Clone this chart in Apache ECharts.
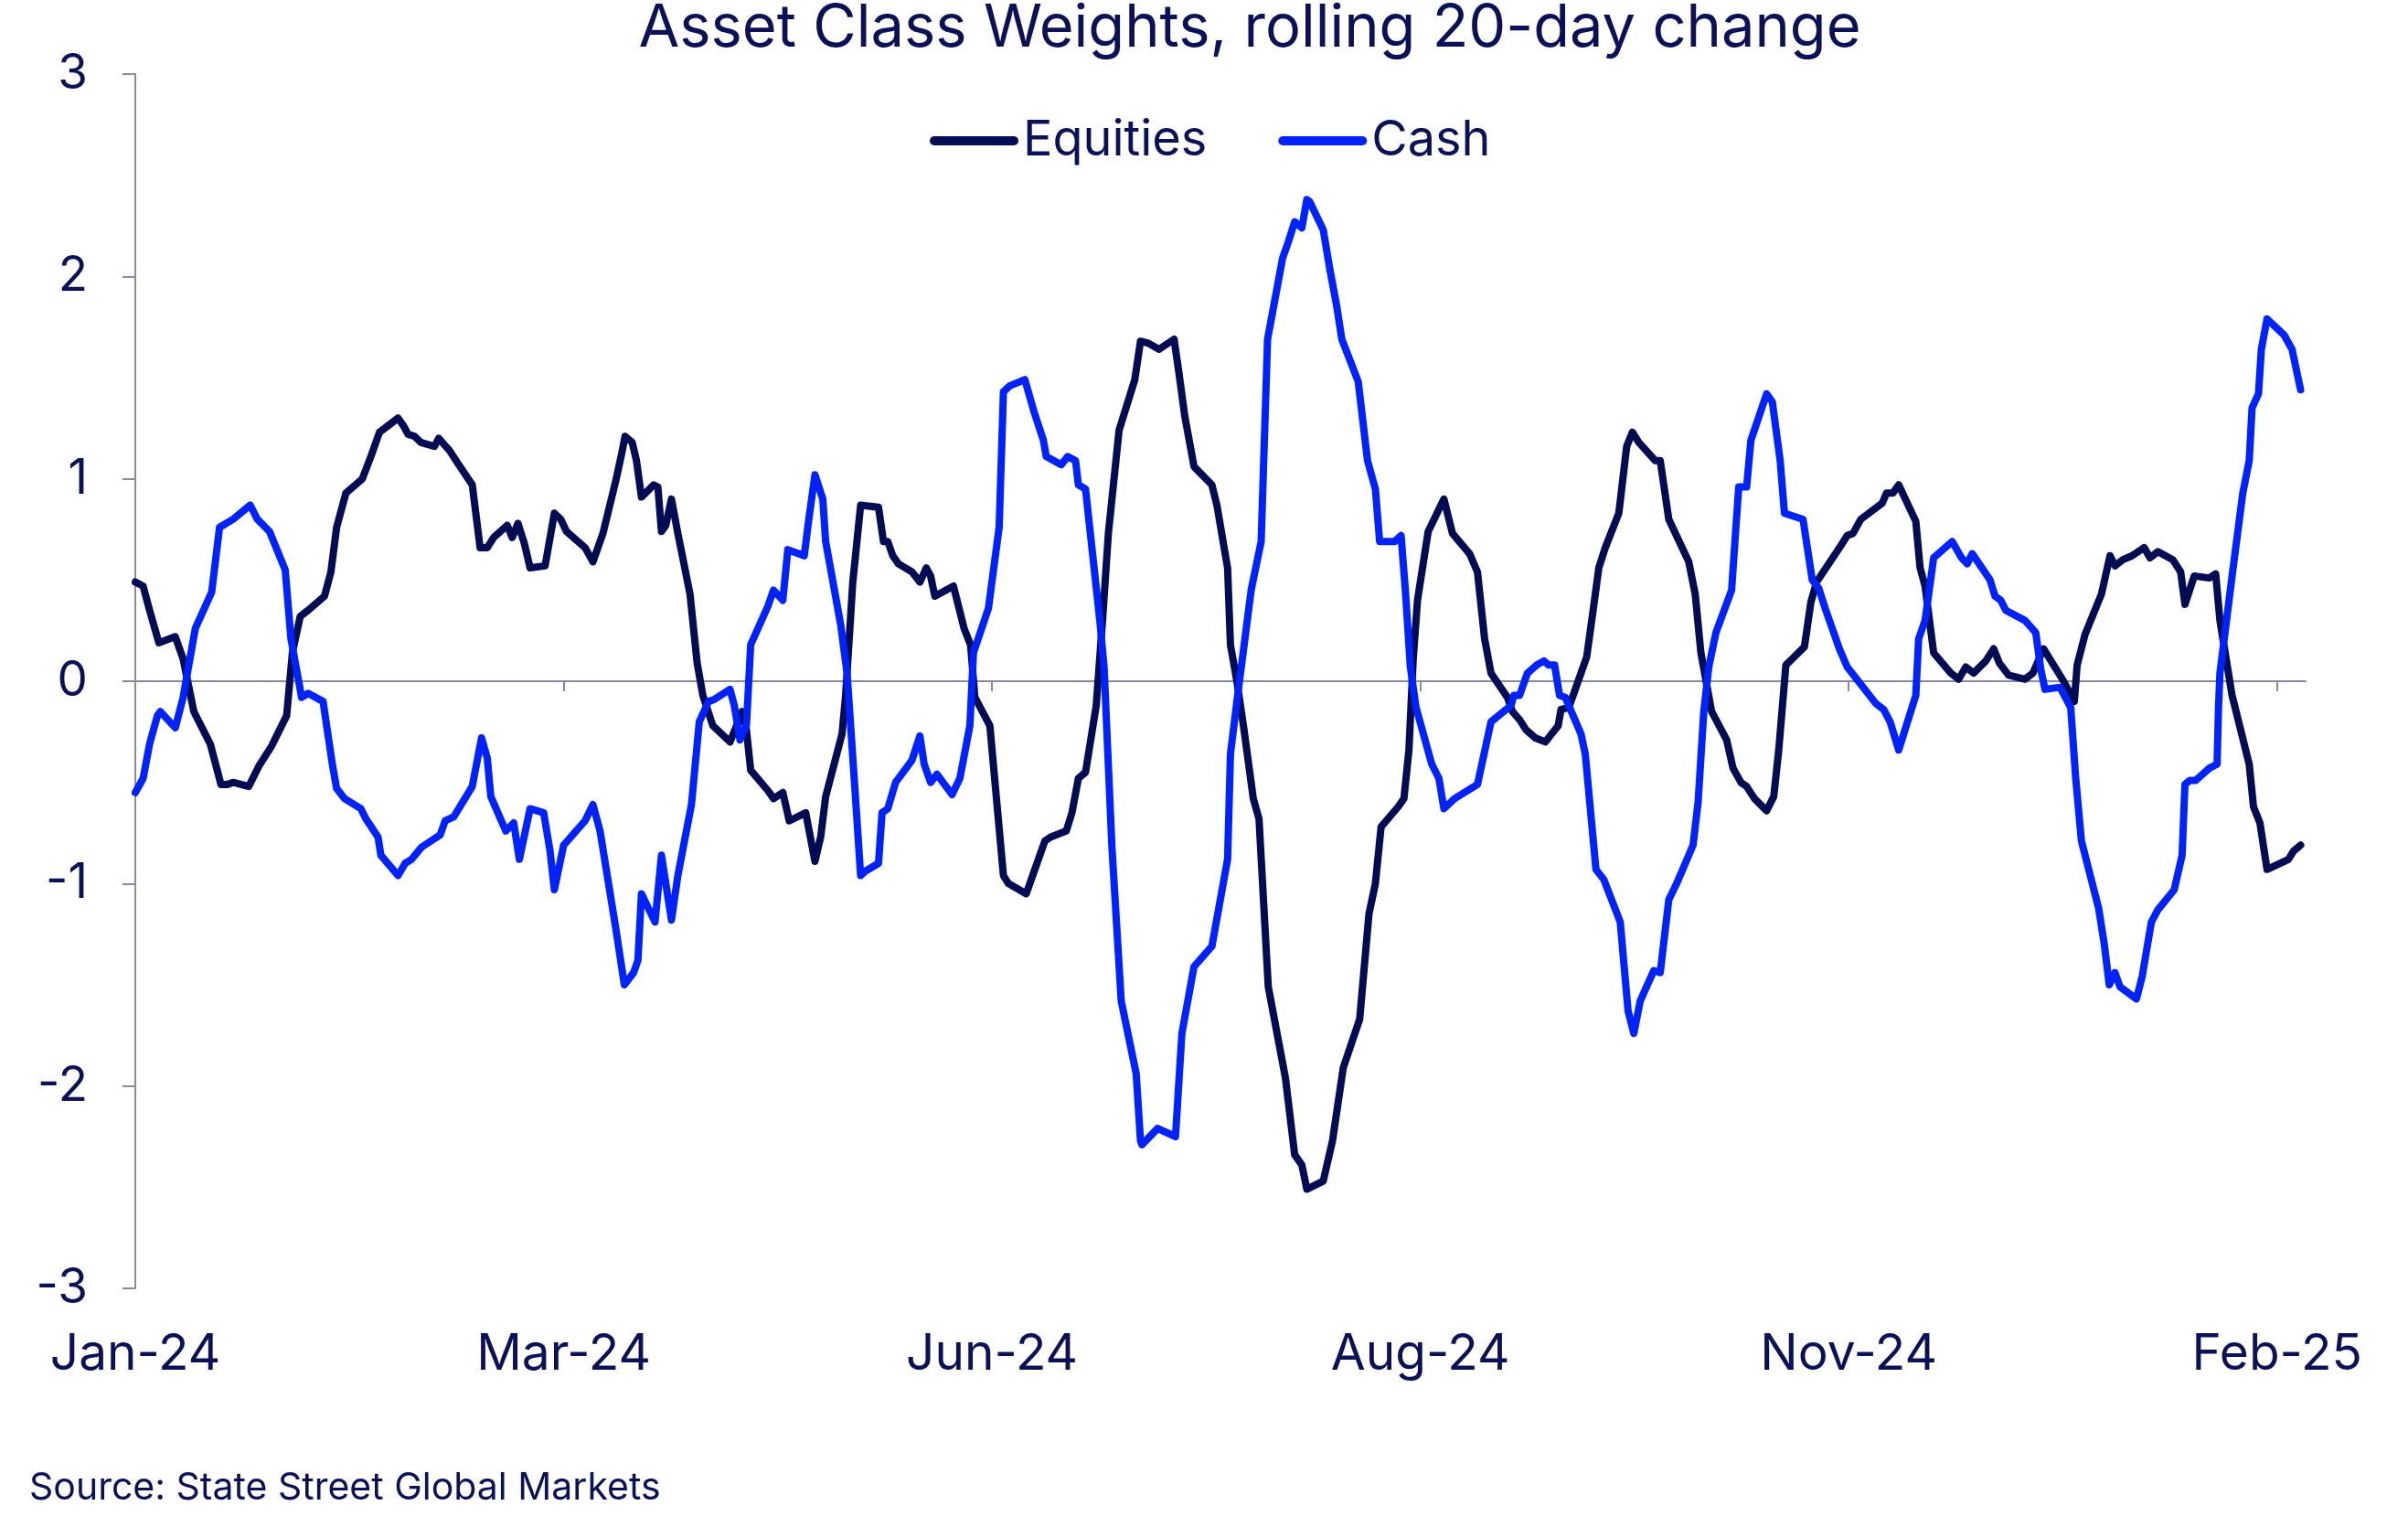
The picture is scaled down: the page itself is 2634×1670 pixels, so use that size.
<!DOCTYPE html>
<html>
<head>
<meta charset="utf-8">
<script src="https://cdn.jsdelivr.net/npm/echarts@6/dist/echarts.min.js"></script>
<style>
html,body{margin:0;padding:0;background:#fff;}
#chart{width:2634px;height:1670px;}
</style>
</head>
<body>
<div id="chart"></div>
<script>
// x positions are trading-day indices (label every 60 days)
var tickDays = [0, 60, 120, 180, 240, 300];
var tickLabels = ["Jan-24", "Mar-24", "Jun-24", "Aug-24", "Nov-24", "Feb-25"];

var equitiesX = [0,1.1,2.0,3.3,5.6,6.7,8.2,10.5,12.0,12.9,13.7,15.9,17.3,19.1,21.2,22.0,23.1,24.2,26.5,27.4,28.2,29.5,31.8,33.1,34.2,36.8,37.6,38.2,39.1,40.0,41.9,42.5,44.0,45.3,47.2,48.3,49.3,50.2,52.1,52.8,53.6,54.5,55.3,57.4,58.7,59.6,60.4,63.0,64.1,65.5,67.3,68.1,68.6,69.6,70.2,70.9,72.6,73.2,73.7,74.3,75.1,76.0,77.7,78.7,79.5,80.9,83.3,84.1,85.0,85.6,86.2,88.6,89.4,90.7,91.6,93.9,94.5,95.2,96.0,96.7,99.0,99.5,100.5,101.6,104.1,104.8,105.4,106.1,106.9,108.8,109.9,110.8,111.4,112.0,114.6,116.1,117.0,117.6,119.7,121.6,122.3,124.8,127.4,128.2,130.4,131.2,132.1,133.1,134.6,135.5,136.3,137.8,140.0,140.8,141.9,143.4,145.5,146.2,147.0,148.3,150.8,151.5,153.0,153.4,154.3,155.3,156.6,157.4,158.7,161.1,162.4,163.4,164.1,166.4,167.7,169.2,171.5,172.8,173.7,174.5,176.9,177.7,178.4,179.0,179.6,181.1,183.3,184.5,186.9,188.0,189.0,189.9,192.2,192.9,193.9,194.8,196.1,197.5,198.4,199.3,199.7,200.8,201.6,203.3,204.2,205.0,205.9,207.8,208.9,209.7,210.6,212.9,213.6,214.8,217.6,218.5,219.3,220.8,222.9,223.8,224.9,225.7,226.8,228.5,229.5,230.2,231.2,233.8,234.7,235.5,238.9,239.8,240.6,241.7,244.7,245.3,246.2,247.0,249.4,250.0,250.7,251.9,254.3,255.4,256.4,257.5,259.2,260.3,261.1,262.4,264.7,265.8,267.3,270.1,271.6,272.0,273.1,275.4,276.6,277.3,278.4,279.7,281.4,282.2,283.3,285.4,286.5,287.1,288.4,290.5,291.4,292.0,293.7,296.1,296.7,297.6,298.6,301.6,302.3,303.3];
var equitiesY = [0.49,0.47,0.35,0.19,0.22,0.11,-0.15,-0.31,-0.51,-0.51,-0.50,-0.52,-0.42,-0.32,-0.17,0.14,0.32,0.35,0.42,0.54,0.76,0.93,1.00,1.12,1.23,1.30,1.26,1.22,1.21,1.18,1.16,1.20,1.14,1.07,0.97,0.66,0.66,0.71,0.77,0.71,0.78,0.68,0.56,0.57,0.83,0.80,0.74,0.66,0.59,0.73,0.99,1.12,1.21,1.18,1.09,0.91,0.97,0.96,0.74,0.77,0.90,0.73,0.43,0.09,-0.07,-0.22,-0.30,-0.23,-0.15,-0.24,-0.44,-0.54,-0.58,-0.55,-0.69,-0.65,-0.76,-0.89,-0.77,-0.57,-0.26,-0.07,0.49,0.87,0.86,0.69,0.69,0.62,0.58,0.54,0.49,0.56,0.52,0.42,0.47,0.26,0.18,-0.08,-0.22,-0.96,-1.00,-1.05,-0.79,-0.77,-0.74,-0.65,-0.48,-0.45,-0.12,0.31,0.73,1.24,1.49,1.68,1.67,1.64,1.69,1.52,1.31,1.06,0.97,0.87,0.56,0.18,0.00,-0.24,-0.58,-0.68,-1.51,-1.96,-2.34,-2.39,-2.51,-2.47,-2.27,-1.91,-1.67,-1.15,-1.00,-0.72,-0.62,-0.58,-0.34,0.11,0.40,0.74,0.90,0.73,0.63,0.54,0.21,0.04,-0.08,-0.15,-0.19,-0.24,-0.28,-0.30,-0.26,-0.22,-0.14,-0.13,-0.05,0.12,0.35,0.56,0.66,0.83,1.16,1.23,1.18,1.09,1.09,0.80,0.59,0.43,0.14,-0.15,-0.29,-0.43,-0.50,-0.52,-0.58,-0.64,-0.57,-0.34,0.08,0.17,0.39,0.49,0.67,0.72,0.73,0.80,0.88,0.93,0.93,0.97,0.79,0.56,0.47,0.14,0.04,0.01,0.07,0.04,0.10,0.16,0.09,0.03,0.01,0.04,0.16,0.00,-0.10,0.08,0.23,0.43,0.62,0.57,0.60,0.62,0.66,0.61,0.64,0.60,0.54,0.38,0.52,0.51,0.53,0.30,-0.07,-0.41,-0.62,-0.70,-0.93,-0.88,-0.84,-0.81];

var cashX = [0,1.1,2.0,3.1,3.5,5.6,6.7,8.4,10.7,11.8,13.7,16.1,17.1,18.8,21.0,21.8,23.3,24.2,26.3,27.6,28.2,29.3,31.6,32.3,34.0,34.4,36.8,37.8,38.7,40.1,42.7,43.4,44.6,47.2,48.5,49.3,49.8,51.9,53.0,53.8,55.3,57.2,58.1,58.7,60.0,63.0,64.1,65.1,67.3,68.5,69.8,70.4,70.9,72.8,73.7,75.1,76.0,77.9,79.0,80.3,81.1,83.3,83.9,84.7,85.6,86.2,88.6,89.4,90.7,91.4,93.7,94.3,95.2,96.3,96.7,98.8,99.7,100.7,101.6,102.2,104.1,104.6,105.4,106.5,108.8,109.9,110.5,111.4,112.3,114.4,115.5,116.9,117.4,119.5,121.0,121.6,122.5,124.6,125.9,127.2,127.6,129.7,130.6,131.7,132.1,133.1,135.1,135.7,136.8,138.1,140.2,140.8,141.0,143.2,145.7,146.6,148.3,150.8,153.0,153.4,154.3,156.3,157.7,158.6,160.7,161.5,162.4,163.4,164.1,164.5,166.4,167.3,168.3,169.0,171.3,172.6,173.7,174.3,176.4,177.3,177.9,178.6,179.4,181.6,182.6,183.3,184.8,188.0,188.8,189.9,192.7,193.1,193.9,195.0,196.3,197.3,198.0,198.8,199.5,200.3,202.5,203.1,204.6,205.7,208.0,209.1,209.9,210.8,212.7,213.6,214.8,215.9,218.2,218.9,219.7,220.4,221.4,223.6,224.2,224.6,225.7,226.3,228.5,229.3,230.4,231.0,233.6,234.9,235.8,236.8,238.7,239.8,243.8,244.9,245.8,247.0,249.4,249.8,250.7,251.9,254.5,255.8,256.6,257.3,259.8,260.5,261.3,262.0,264.7,266.2,266.9,267.5,269.6,271.1,271.8,272.6,275.0,275.8,276.5,277.3,278.0,280.3,281.1,282.4,283.3,285.6,286.7,287.1,287.8,288.6,290.5,291.6,291.8,292.0,293.7,295.2,296.1,296.5,297.4,297.8,298.6,301.0,302.1,303.3];
var cashY = [-0.55,-0.48,-0.31,-0.17,-0.15,-0.23,-0.08,0.26,0.44,0.76,0.80,0.87,0.80,0.74,0.55,0.21,-0.08,-0.06,-0.10,-0.41,-0.53,-0.58,-0.63,-0.68,-0.77,-0.86,-0.96,-0.90,-0.88,-0.82,-0.76,-0.69,-0.67,-0.52,-0.28,-0.38,-0.57,-0.74,-0.70,-0.88,-0.63,-0.65,-0.84,-1.03,-0.81,-0.69,-0.61,-0.74,-1.22,-1.50,-1.44,-1.38,-1.05,-1.19,-0.86,-1.18,-0.96,-0.61,-0.20,-0.10,-0.09,-0.04,-0.12,-0.29,-0.22,0.18,0.37,0.45,0.40,0.65,0.62,0.79,1.02,0.90,0.69,0.28,0.04,-0.48,-0.96,-0.94,-0.90,-0.65,-0.63,-0.50,-0.39,-0.27,-0.41,-0.50,-0.46,-0.56,-0.48,-0.22,0.14,0.36,0.76,1.43,1.46,1.49,1.33,1.19,1.11,1.07,1.11,1.09,0.97,0.95,0.30,0.07,-0.82,-1.58,-1.94,-2.27,-2.29,-2.21,-2.25,-1.74,-1.41,-1.31,-0.88,-0.36,-0.10,0.45,0.69,1.69,2.09,2.17,2.27,2.24,2.38,2.37,2.23,2.04,1.85,1.69,1.48,1.09,0.95,0.69,0.69,0.72,0.45,0.07,-0.13,-0.41,-0.48,-0.63,-0.58,-0.51,-0.38,-0.20,-0.12,-0.07,-0.07,0.04,0.08,0.10,0.08,0.08,-0.07,-0.08,-0.26,-0.36,-0.93,-0.98,-1.19,-1.63,-1.74,-1.58,-1.43,-1.44,-1.08,-1.00,-0.81,-0.60,-0.15,0.07,0.24,0.45,0.76,0.96,0.96,1.19,1.42,1.38,1.09,0.83,0.80,0.50,0.46,0.35,0.16,0.07,-0.11,-0.14,-0.20,-0.34,-0.07,0.21,0.30,0.61,0.69,0.61,0.58,0.63,0.50,0.42,0.40,0.35,0.30,0.24,0.06,-0.04,-0.03,-0.13,-0.48,-0.79,-1.12,-1.30,-1.50,-1.44,-1.51,-1.57,-1.46,-1.19,-1.13,-1.03,-0.86,-0.51,-0.49,-0.49,-0.43,-0.41,-0.13,0.04,0.52,0.93,1.09,1.35,1.42,1.64,1.79,1.71,1.64,1.44];

function pairs(xs, ys) {
  var out = [];
  for (var i = 0; i < xs.length; i++) out.push([xs[i], ys[i]]);
  return out;
}

var textColor = '#0b1159';
var axisColor = '#8b8ba0';
var fontFam = 'Inter, "Noto Sans", sans-serif';
var capsule = 'path://M5,0H92A5,5,0,0,1,92,10H5A5,5,0,0,1,5,0Z';

var chart = echarts.init(document.getElementById('chart'), null, {renderer: 'canvas'});
chart.setOption({
  animation: false,
  backgroundColor: '#ffffff',
  grid: {left: 148, right: 112, top: 81, bottom: 261, containLabel: false},
  legend: {
    top: 122,
    left: 1012,
    itemWidth: 97,
    itemHeight: 10,
    itemGap: 78,
    textStyle: {color: textColor, fontSize: 54, fontFamily: fontFam, padding: 0},
    data: [{name: 'Equities', icon: capsule}, {name: 'Cash', icon: capsule}]
  },
  xAxis: [{
    type: 'value', min: 0, max: 304,
    axisLine: {show: true, onZero: true, lineStyle: {color: axisColor, width: 2}},
    axisTick: {show: true, length: 11, customValues: tickDays, lineStyle: {color: axisColor, width: 2}},
    axisLabel: {show: false},
    splitLine: {show: false}
  }, {
    type: 'value', min: 0, max: 304, position: 'bottom',
    axisLine: {show: false, onZero: false},
    axisTick: {show: false},
    splitLine: {show: false},
    axisLabel: {
      show: true, margin: 45, customValues: tickDays,
      color: textColor, fontSize: 55, fontFamily: fontFam,
      formatter: function (v) { var k = Math.round(v / 60); return tickLabels[k] || ''; }
    }
  }],
  yAxis: {
    type: 'value', min: -3, max: 3, interval: 1,
    axisLine: {show: true, lineStyle: {color: axisColor, width: 2}},
    axisTick: {show: true, length: 14, lineStyle: {color: axisColor, width: 2}},
    axisLabel: {color: textColor, fontSize: 53, fontFamily: fontFam, margin: 52},
    splitLine: {show: false}
  },
  graphic: [{
    type: 'text',
    style: {
      text: 'Asset Class Weights, rolling 20-day change',
      x: 1367, y: 31, textAlign: 'center', textVerticalAlign: 'middle',
      fill: textColor, font: '65px ' + fontFam
    }
  }, {
    type: 'text',
    style: {
      text: 'Source: State Street Global Markets',
      x: 32, y: 1628, textAlign: 'left', textVerticalAlign: 'middle',
      fill: textColor, font: '41px ' + fontFam
    }
  }],
  series: [{
    name: 'Equities', type: 'line', xAxisIndex: 0, showSymbol: false, symbol: 'none',
    color: '#020c55',
    lineStyle: {color: '#020c55', width: 8, join: 'round', cap: 'round'},
    data: pairs(equitiesX, equitiesY)
  }, {
    name: 'Cash', type: 'line', xAxisIndex: 0, showSymbol: false, symbol: 'none',
    color: '#0022ff',
    lineStyle: {color: '#0022ff', width: 8, join: 'round', cap: 'round'},
    data: pairs(cashX, cashY)
  }]
});
</script>
</body>
</html>
